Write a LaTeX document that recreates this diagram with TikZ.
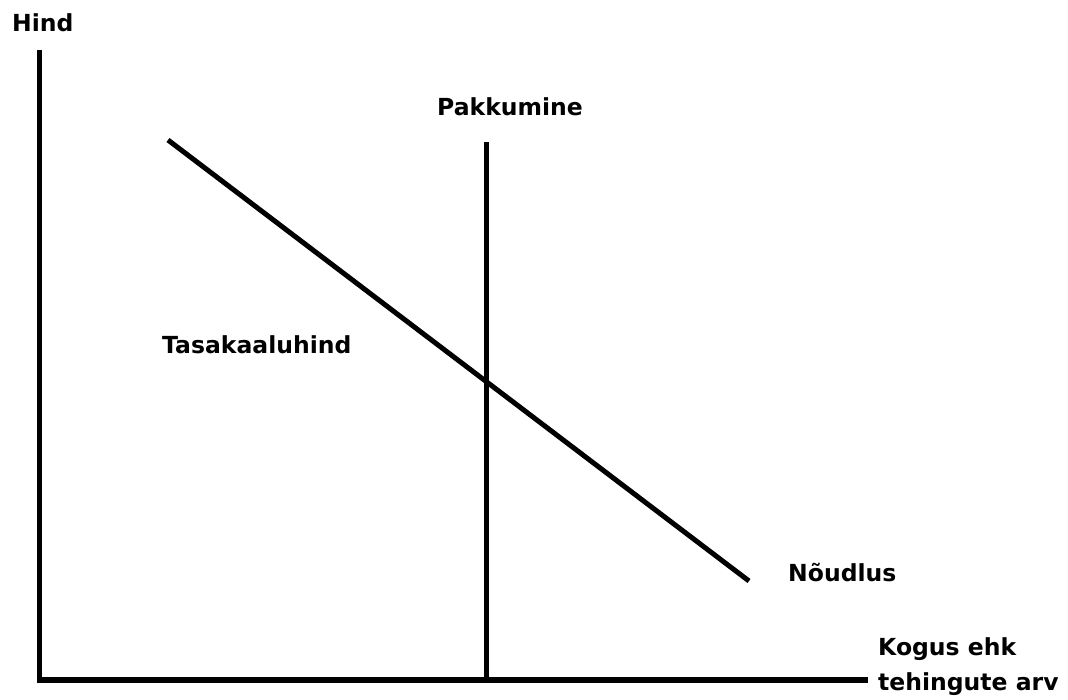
\documentclass[tikz,border=0pt]{standalone}
\usepackage{fontspec}
\setmainfont{DejaVu Sans}
\usetikzlibrary{positioning}
\tikzset{
  font=\bfseries\fontsize{23.5}{35}\selectfont,
  axislabel/.style={inner sep=0pt, anchor=base west, align=left},
  curvelabel/.style={inner sep=0pt, anchor=base west},
  axisline/.style={draw=black, line width=5.5pt},
  curveline/.style={draw=black, line width=5pt}
}
\begin{document}
\begin{tikzpicture}[x=1pt, y=-1pt]

  \useasboundingbox (0,0) rectangle (1068,699);

  % Axes
  \coordinate (origin) at (39.5,680);
  \coordinate (ytop) at (39.5,53);
  \coordinate (xend) at (865,680);
  \draw[axisline, line cap=rect] (ytop) -- (origin) -- (xend);

  % Supply and demand
  \coordinate (supplytop) at (486,142);
  \coordinate (supplybot) at (486,680);
  \coordinate (demandtop) at (168,140);
  \coordinate (demandbot) at (749,581);
  \draw[curveline] (supplytop) -- (supplybot);
  \draw[curveline] (demandtop) -- (demandbot);

  % Labels
  \node[axislabel] (price) at (12,31) {Hind};
  \node[axislabel] (quantity) at (878,690) {Kogus ehk\\tehingute arv};
  \node[curvelabel] (supply) at (437,115) {Pakkumine};
  \node[curvelabel] (demand) at (788,581) {Nõudlus};
  \node[curvelabel] (equilibrium) at (162,353) {Tasakaaluhind};

\end{tikzpicture}
\end{document}
